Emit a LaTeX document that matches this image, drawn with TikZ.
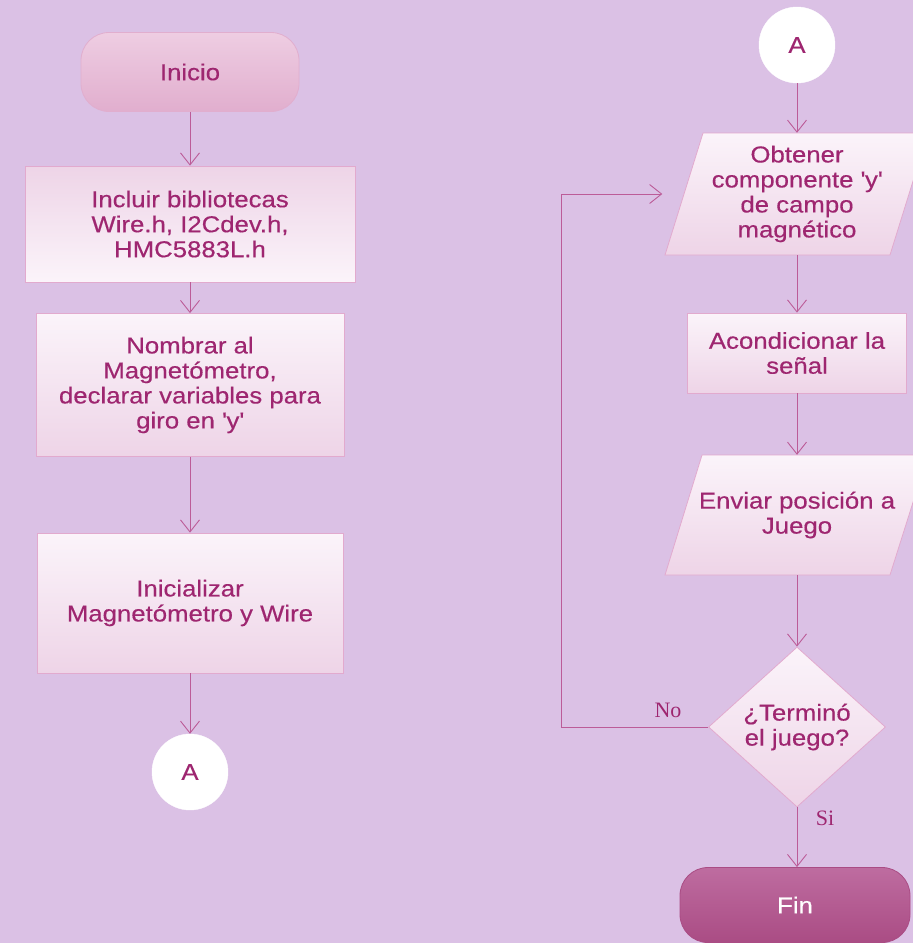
\documentclass[tikz,border=0pt]{standalone}
\usepackage{fontspec}
\setmainfont{Liberation Sans}[FakeStretch=1.12,FakeBold=0.4]
\newfontfamily\labelserif{Liberation Serif}
\usetikzlibrary{shapes.geometric,arrows.meta}
\definecolor{bg}{RGB}{219,193,229}
\definecolor{txt}{RGB}{158,38,112}
\definecolor{ln}{RGB}{188,92,152}
\definecolor{bord}{RGB}{226,170,206}
\definecolor{boxlight}{RGB}{251,244,250}
\definecolor{boxpink}{RGB}{238,212,231}
\definecolor{startT}{RGB}{238,205,226}
\definecolor{startB}{RGB}{225,174,206}
\definecolor{finT}{RGB}{190,108,160}
\definecolor{finB}{RGB}{170,76,132}
\tikzset{
  basefont/.style={font=\fontsize{23}{25}\selectfont},
  procbox/.style={rectangle, draw=bord, line width=0.8pt, top color=boxlight, bottom color=boxpink, align=center, text=txt, basefont, inner sep=2pt},
  procboxrev/.style={procbox, top color=boxpink, bottom color=boxlight},
  terminal/.style={rectangle, rounded corners=28pt, draw=startB, line width=0.8pt, align=center, basefont, inner sep=2pt},
  connector/.style={circle, fill=white, draw=white, minimum size=76pt, inner sep=0pt, text=txt, basefont},
  paratext/.style={rectangle, draw=none, align=center, text=txt, basefont, inner sep=0pt},
  parashape/.style={draw=bord, line width=0.8pt, top color=boxlight, bottom color=boxpink},
  decision/.style={diamond, draw=bord, line width=0.8pt, top color=boxlight, bottom color=boxpink, align=center, text=txt, basefont, inner sep=0pt, minimum width=177pt, minimum height=160pt},
  arr/.style={draw=ln, line width=0.9pt, -{Straight Barb[length=12pt,width=19pt]}},
  branchlabel/.style={text=txt, font=\labelserif\fontsize{22}{24}\selectfont, inner sep=0pt}
}
\begin{document}
\begin{tikzpicture}[x=1pt,y=-1pt]
\useasboundingbox (0,0) rectangle (913,943);
\fill[bg] (0,0) rectangle (913,943);
\clip (0,0) rectangle (913,943);

% left column
\node[terminal, top color=startT, bottom color=startB, text=txt, minimum width=218pt, minimum height=79pt] (inicio) at (190,72) {Inicio};
\node[procboxrev, minimum width=330pt, minimum height=116pt] (libs) at (190,224) {Incluir bibliotecas\\Wire.h, I2Cdev.h,\\HMC5883L.h};
\node[procbox, minimum width=308pt, minimum height=143pt] (nombrar) at (190,385) {Nombrar al\\Magnetómetro,\\declarar variables para\\giro en \textquotesingle y\textquotesingle};
\node[procbox, minimum width=306pt, minimum height=140pt] (init) at (190,603) {Inicializar\\Magnetómetro y Wire};
\node[connector] (aleft) at (190,772) {A};

\draw[arr] (inicio) -- (libs);
\draw[arr] (libs) -- (nombrar);
\draw[arr] (nombrar) -- (init);
\draw[arr] (init) -- (aleft);

% right column
\node[connector] (aright) at (797,45) {A};
\shade[parashape] (703,133) -- (928,133) -- (890,255) -- (665,255) -- cycle;
\node[paratext, minimum width=225pt, minimum height=122pt] (obtener) at (797,194) {Obtener\\componente \textquotesingle y\textquotesingle\\de campo\\magnético};
\node[procbox, minimum width=219pt, minimum height=80pt] (acond) at (797,353) {Acondicionar la\\señal};
\shade[parashape] (702,455) -- (928,455) -- (890,575) -- (665,575) -- cycle;
\node[paratext, minimum width=225pt, minimum height=120pt] (enviar) at (797,515) {Enviar posición a\\Juego};
\node[decision] (termino) at (797,727) {¿Terminó\\el juego?};
\node[terminal, top color=finT, bottom color=finB, draw=finB, text=white, minimum width=230pt, minimum height=75pt] (fin) at (795,905) {Fin};

\coordinate (loopcorner) at (561,727);

\draw[arr] (aright) -- (obtener);
\draw[arr] (obtener) -- (acond);
\draw[arr] (acond) -- (enviar);
\draw[arr] (enviar) -- (termino);
\draw[arr] (termino.south) -- (termino.south |- fin.north);
\draw[arr, shorten >=22pt] (termino.west) -- (loopcorner) |- (obtener.west);

\node[branchlabel] (nolabel) at (668,710) {No};
\node[branchlabel] (silabel) at (825,818) {Si};
\end{tikzpicture}
\end{document}
